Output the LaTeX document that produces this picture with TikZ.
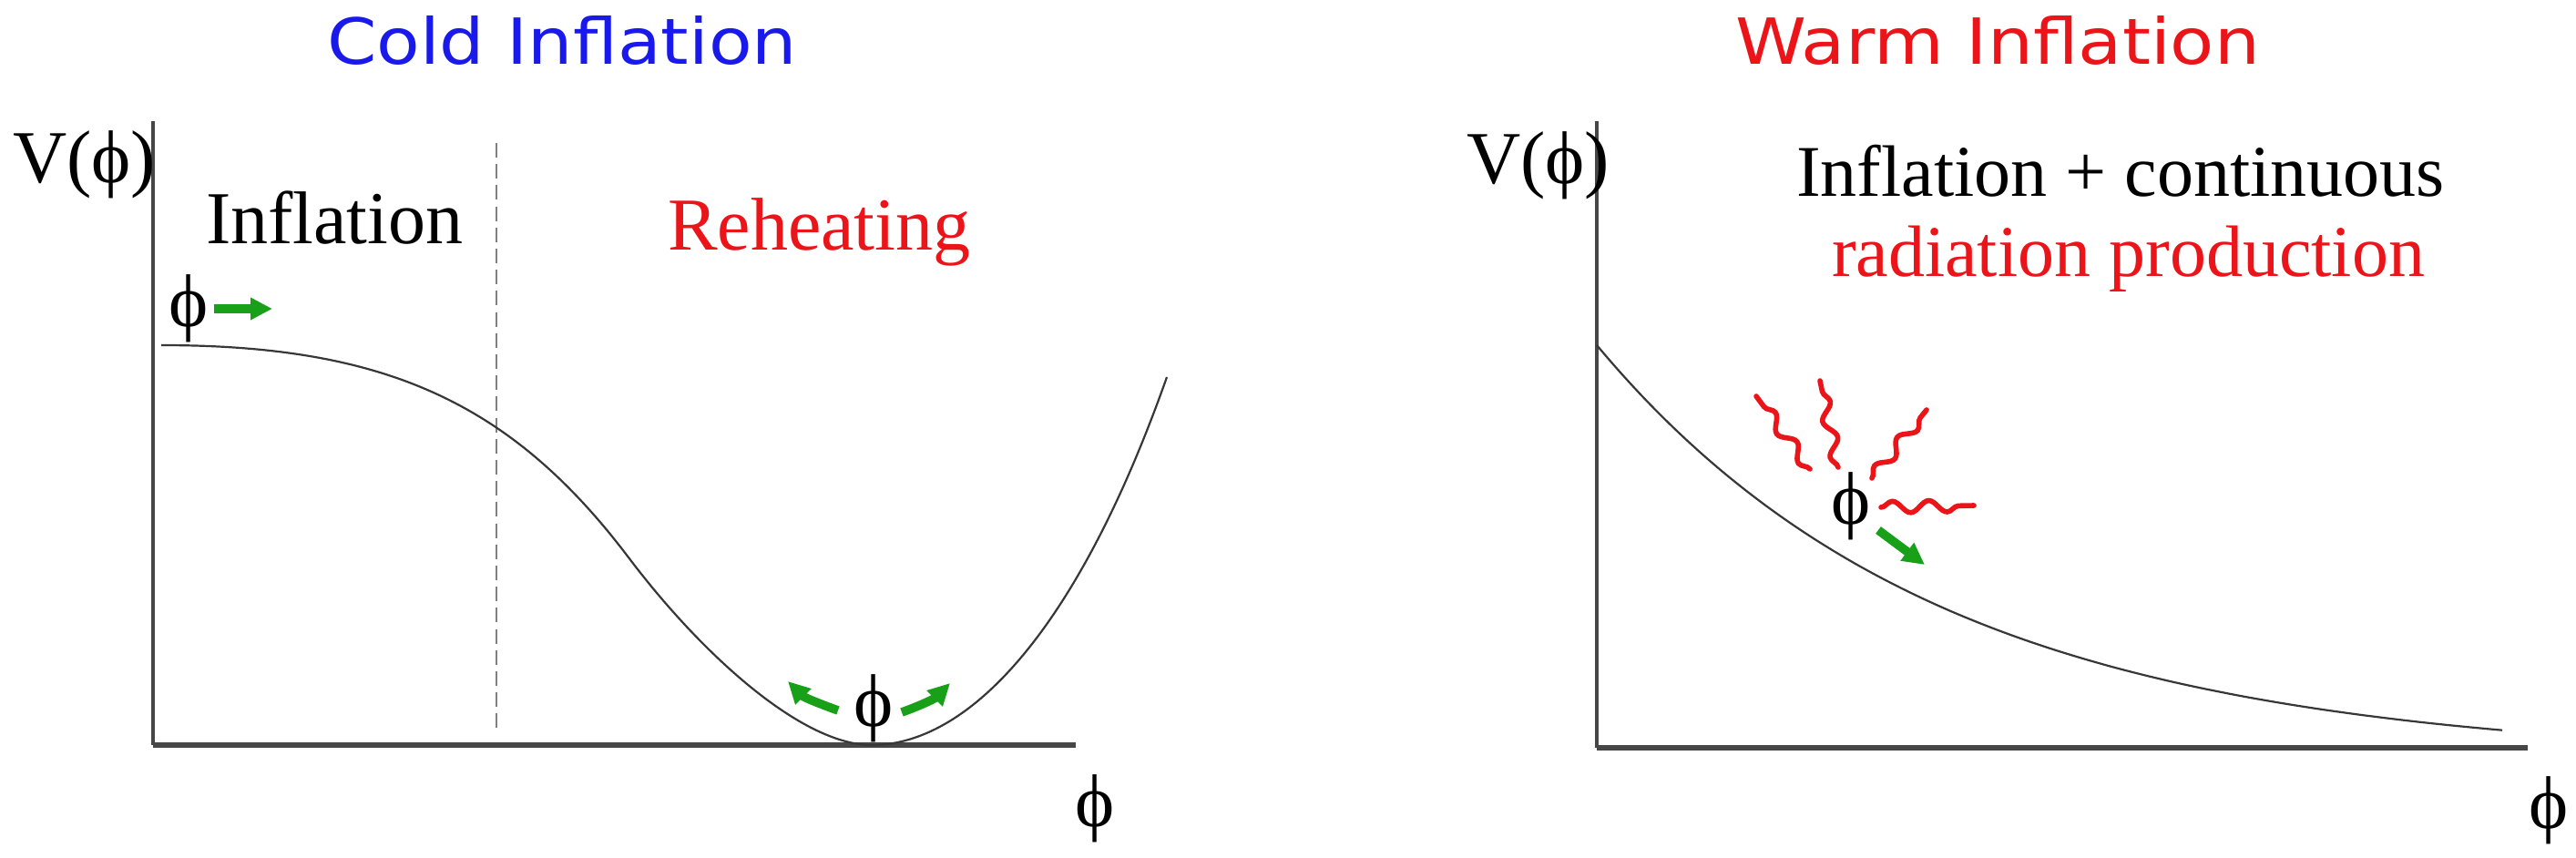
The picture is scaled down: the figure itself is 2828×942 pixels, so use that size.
\documentclass[tikz,border=0pt]{standalone}
\usepackage{fontspec}
\setmainfont{Liberation Serif}
\newfontfamily\titlefont{DejaVu Sans}
\usetikzlibrary{arrows.meta,decorations.pathmorphing}
\definecolor{coldblue}{RGB}{25,25,235}
\definecolor{warmred}{RGB}{235,20,25}
\definecolor{arrowgreen}{RGB}{25,160,25}
\definecolor{axisgray}{RGB}{70,70,70}
\definecolor{curvegray}{RGB}{55,55,55}
\begin{document}
\begin{tikzpicture}[x=0.25pt,y=-0.25pt,
  lbl/.style={inner sep=0pt, outer sep=0pt, font=\fontsize{20.5}{24}\selectfont},
  rlbl/.style={inner sep=0pt, outer sep=0pt, font=\fontsize{20}{24}\selectfont},
  ttl/.style={inner sep=0pt, outer sep=0pt, anchor=base west, font=\titlefont},
  axisline/.style={draw=axisgray, line width=0.9pt},
  xaxisline/.style={draw=axisgray, line width=1.3pt},
  potential/.style={draw=curvegray, line width=0.55pt},
  guide/.style={draw=gray, line width=0.5pt, dash pattern=on 4pt off 1.8pt},
  greenarrow/.style={draw=arrowgreen, line width=2.4pt, -{Triangle[length=6pt,width=5.8pt]}},
  wave/.style={draw=warmred, line width=1.4pt, line cap=round, decorate,
    decoration={snake, amplitude=1.6pt, segment length=10pt}}
]
\useasboundingbox (0,0) rectangle (2828,942);

% ---------------- Cold inflation ----------------
\node[ttl, text=coldblue] (coldtitle) at (359,70) {\resizebox{129pt}{13.25pt}{Cold Inflation}};
\coordinate (yaxL) at (168,133);
\coordinate (oL) at (168,818);
\coordinate (xaxL) at (1181,818);
\draw[axisline] (yaxL) -- (oL);
\draw[xaxisline] (oL) -- (xaxL);
\node[lbl, anchor=base west] (VL) at (14,200) {V(ϕ)};
\node[lbl, anchor=base west] (inflL) at (226,267) {Inflation};
\node[lbl, anchor=base west, text=warmred] (reheat) at (733,274) {Reheating};
\coordinate (dashTop) at (545,157);
\coordinate (dashBot) at (545,806);
\draw[guide] (dashTop) -- (dashBot);
\coordinate (cS) at (177,379);
\coordinate (cI) at (690,612);
\coordinate (cM) at (957,818);
\coordinate (cE) at (1281,414);
\draw[potential] (cS) .. controls (420,379) and (560,440) .. (cI)
  .. controls (770,718) and (880,818) .. (cM)
  .. controls (1060,818) and (1180,700) .. (cE);
\node[lbl, anchor=base] (phiL) at (207,358) {ϕ};
\coordinate (aLs) at (235,339);
\coordinate (aLe) at (299,339);
\draw[greenarrow] (aLs) -- (aLe);
\node[lbl, anchor=base] (phiMin) at (959,797) {ϕ};
\coordinate (mLs) at (920,780);
\coordinate (mLe) at (865,748);
\coordinate (mRs) at (990,782);
\coordinate (mRe) at (1043,750);
\draw[greenarrow] (mLs) to[out=160,in=-45] (mLe);
\draw[greenarrow] (mRs) to[out=20,in=225] (mRe);
\node[lbl, anchor=base] (phiXL) at (1202,907) {ϕ};

% ---------------- Warm inflation ----------------
\node[ttl, text=warmred] (warmtitle) at (1905,70) {\resizebox{144pt}{13.25pt}{Warm Inflation}};
\coordinate (yaxR) at (1753,133);
\coordinate (oR) at (1753,821);
\coordinate (xaxR) at (2775,821);
\draw[axisline] (yaxR) -- (oR);
\draw[xaxisline] (oR) -- (xaxR);
\node[lbl, anchor=base west] (VR) at (1610,201) {V(ϕ)};
\node[rlbl, anchor=base west] (inflR) at (1972,215) {Inflation + continuous};
\node[rlbl, anchor=base west, text=warmred] (radR) at (2011,303) {radiation production};
\draw[potential] plot[domain=0:994, samples=80, smooth] ({1753+\x}, {835-456*exp(-\x/380)});
\node[lbl, anchor=base] (phiR) at (2032,575) {ϕ};
\coordinate (wAs) at (1987,515); \coordinate (wAe) at (1928,435);
\coordinate (wBs) at (2018,513); \coordinate (wBe) at (1998,418);
\coordinate (wCs) at (2055,525); \coordinate (wCe) at (2115,450);
\coordinate (wDs) at (2065,557); \coordinate (wDe) at (2167,555);
\draw[wave] (wAs) -- (wAe);
\draw[wave] (wBs) -- (wBe);
\draw[wave] (wCs) -- (wCe);
\draw[wave] (wDs) -- (wDe);
\coordinate (gRs) at (2062,582);
\coordinate (gRe) at (2113,620);
\draw[greenarrow] (gRs) -- (gRe);
\node[lbl, anchor=base] (phiXR) at (2798,909) {ϕ};
\end{tikzpicture}
\end{document}
